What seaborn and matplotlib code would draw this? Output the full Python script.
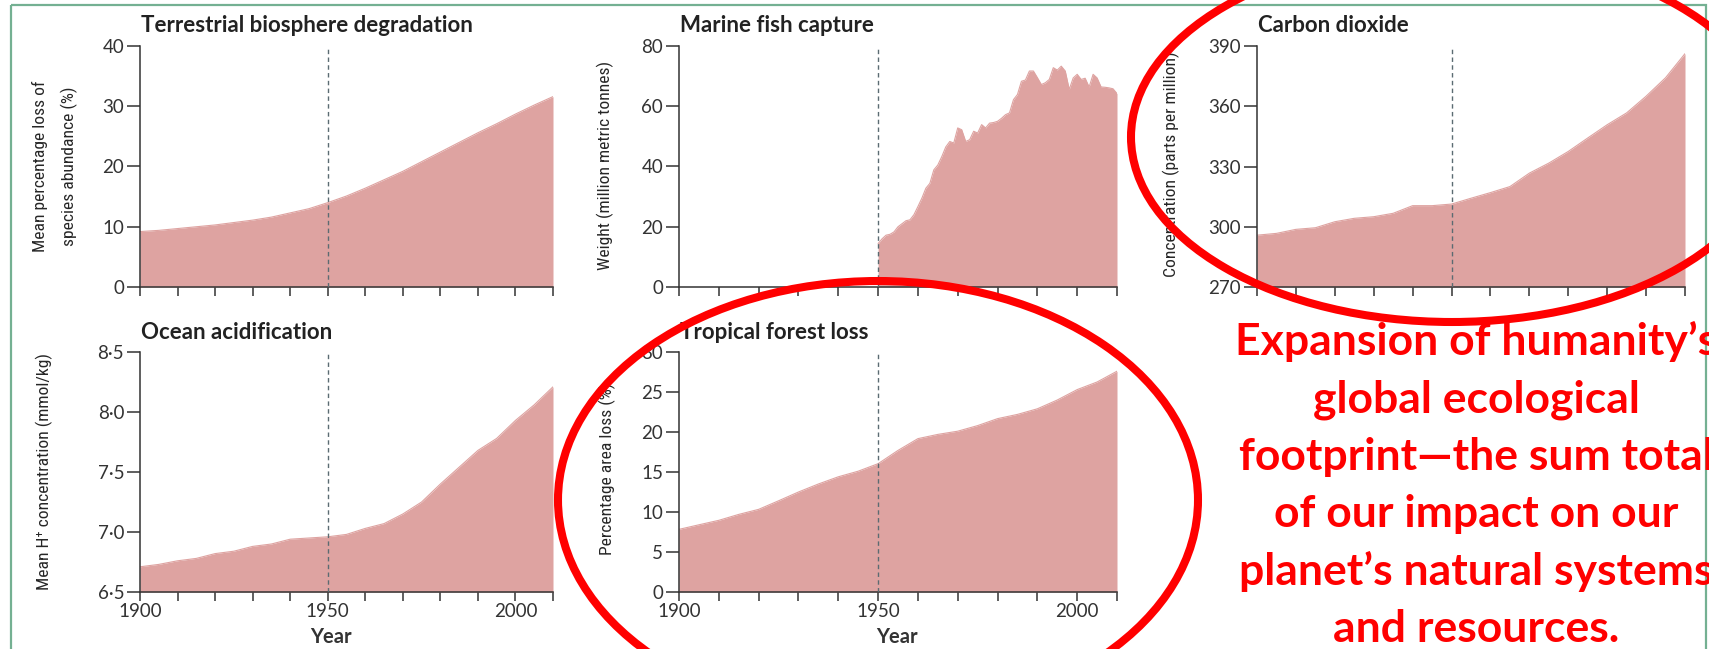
import numpy as np
import pandas as pd
import seaborn as sns
import matplotlib.pyplot as plt
from matplotlib.patches import Ellipse, Rectangle
from matplotlib import font_manager as fm

# ---------------------------------------------------------------- data
years5 = list(range(1900, 2011, 5))

biosphere_loss = [9.2, 9.4, 9.7, 10.0, 10.3, 10.7, 11.1, 11.6, 12.3, 13.0, 14.0, 15.1,
                  16.4, 17.8, 19.2, 20.8, 22.4, 24.0, 25.6, 27.1, 28.7, 30.2, 31.6]

fish_years = list(range(1950, 2011))
fish_catch = [14.4, 16.0, 17.2, 17.5, 18.3, 20.0, 21.0, 22.0, 22.3, 24.0,
              26.7, 29.5, 32.8, 34.4, 38.9, 40.5, 43.3, 46.5, 48.3, 47.8,
              52.8, 52.2, 48.3, 48.9, 51.7, 51.1, 53.9, 52.8, 54.4, 54.6,
              55.0, 56.0, 57.2, 57.8, 62.2, 63.9, 68.3, 68.7, 71.7, 71.7,
              69.5, 67.2, 67.8, 68.9, 72.8, 72.0, 73.3, 71.7, 65.6, 69.4,
              70.6, 68.9, 69.3, 66.4, 70.6, 69.4, 66.4, 66.3, 66.1, 65.8,
              64.2]

co2_ppm = [295.8, 296.7, 298.7, 299.5, 302.5, 304.2, 305.0, 306.7, 310.5, 310.5, 311.3, 314.2,
           317.0, 320.0, 326.7, 331.7, 337.5, 344.2, 350.8, 356.7, 365.0, 374.2, 386.2]

h_ion = [6.71, 6.73, 6.76, 6.78, 6.82, 6.84, 6.88, 6.90, 6.94, 6.95, 6.96, 6.98,
         7.03, 7.07, 7.15, 7.25, 7.40, 7.54, 7.68, 7.78, 7.93, 8.06, 8.21]

forest_loss = [7.83, 8.40, 8.96, 9.70, 10.33, 11.40, 12.50, 13.50, 14.40, 15.10, 16.04, 17.70,
               19.17, 19.70, 20.10, 20.80, 21.67, 22.20, 22.90, 24.00, 25.30, 26.25, 27.60]

x_ticks = list(range(1900, 2011, 10))
x_labels = ["1900" if t == 1900 else "1950" if t == 1950 else "2000" if t == 2000 else "" for t in x_ticks]

note_lines = ["Expansion of humanity\u2019s", "global ecological", "footprint\u2014the sum total",
              "of our impact on our", "planet\u2019s natural systems", "and resources."]

# ---------------------------------------------------------------- style
sns.set_theme(style="white")
plt.rcParams["font.family"] = ["Lato", "DejaVu Sans"]


def has_font(name):
    try:
        fm.findfont(fm.FontProperties(family=name), fallback_to_default=False)
        return True
    except Exception:
        return False


if has_font("Liberation Sans Narrow"):
    LABEL_FAMILY, LABEL_SIZE = ["Liberation Sans Narrow", "DejaVu Sans"], 13.1
elif has_font("Roboto Condensed"):
    LABEL_FAMILY, LABEL_SIZE = ["Roboto Condensed", "DejaVu Sans"], 12.6
else:
    LABEL_FAMILY, LABEL_SIZE = ["Roboto", "DejaVu Sans"], 11

FILL = "#dea3a1"
INK = "#333333"
DASH = "#5b6b72"
W, H = 1709, 649

fig = plt.figure(figsize=(W / 100, H / 100), dpi=100)
fig.patch.set_facecolor("white")


def box(left, top, right, bottom):
    return [left / W, 1 - bottom / H, (right - left) / W, (bottom - top) / H]


def panel(rect, years, values, ylim, yticks, ylabels, title, bottom_row, year_x=None):
    ax = fig.add_axes(box(*rect))
    df = pd.DataFrame({"year": years, "value": values})
    ax.fill_between(df["year"], ylim[0], df["value"], color=FILL, lw=0, zorder=1)
    sns.lineplot(data=df, x="year", y="value", ax=ax, color=FILL, lw=0.8, zorder=2)
    ax.axvline(1950, color=DASH, lw=1.0, ls=(0, (3.2, 2.4)), zorder=3)
    ax.set_xlim(1900, 2010)
    ax.set_ylim(*ylim)
    ax.set_xticks(x_ticks)
    ax.set_yticks(yticks)
    ax.set_yticklabels(ylabels)
    if bottom_row:
        ax.set_xticklabels(x_labels)
    else:
        ax.set_xticklabels([])
    ax.set_xlabel("")
    ax.set_ylabel("")
    sns.despine(ax=ax)
    for s in ("left", "bottom"):
        ax.spines[s].set_color(INK)
        ax.spines[s].set_linewidth(1.1)
    ax.tick_params(axis="x", direction="out", length=6.5, width=1.1, color=INK,
                   labelsize=13.5, labelcolor=INK, pad=1.5, bottom=True)
    ax.tick_params(axis="y", direction="out", length=9.4, width=1.1, color=INK,
                   labelsize=13.5, labelcolor=INK, pad=2, left=True)
    ax.patch.set_alpha(0)
    left, top = rect[0], rect[1]
    fig.text((left + 1) / W, 1 - (top - 20) / H, title, ha="left", va="center",
             fontsize=16, fontweight="bold", color="#222222")
    if bottom_row:
        fig.text(year_x / W, 1 - 637 / H, "Year", ha="center", va="center",
                 fontsize=14.5, fontweight="bold", color="#333333")
    return ax


panel((140, 46, 553, 287), years5, biosphere_loss, (0, 40), [0, 10, 20, 30, 40],
      ["0", "10", "20", "30", "40"], "Terrestrial biosphere degradation", False)
panel((679, 46, 1117, 287), fish_years, fish_catch, (0, 80), [0, 20, 40, 60, 80],
      ["0", "20", "40", "60", "80"], "Marine fish capture", False)
panel((1257, 46, 1685, 287), years5, co2_ppm, (270, 390), [270, 300, 330, 360, 390],
      ["270", "300", "330", "360", "390"], "Carbon dioxide", False)
panel((140, 352, 553, 592), years5, h_ion, (6.5, 8.5), [6.5, 7.0, 7.5, 8.0, 8.5],
      ["6\u00b75", "7\u00b70", "7\u00b75", "8\u00b70", "8\u00b75"], "Ocean acidification", True, year_x=331)
panel((679, 352, 1117, 592), years5, forest_loss, (0, 30), [0, 5, 10, 15, 20, 25, 30],
      ["0", "5", "10", "15", "20", "25", "30"], "Tropical forest loss", True, year_x=897)


def ylabel(x, y, s):
    fig.text(x / W, 1 - y / H, s, rotation=90, ha="center", va="center",
             family=LABEL_FAMILY, fontsize=LABEL_SIZE, color="#262626")


ylabel(40, 166, "Mean percentage loss of")
ylabel(69, 166, "species abundance (%)")
ylabel(605, 165, "Weight (million metric tonnes)")
ylabel(1171, 164, "Concentration (parts per million)")
ylabel(44, 472, "Mean H\u207a concentration (mmol/kg)")
ylabel(607, 469, "Percentage area loss (%)")

# ---------------------------------------------------------------- slide overlay
over = fig.add_axes([0, 0, 1, 1], zorder=10)
over.set_xlim(0, W)
over.set_ylim(H, 0)
over.axis("off")
over.patch.set_alpha(0)

over.add_patch(Rectangle((11, 5), 1695, 700, fill=False, edgecolor="#74b092", lw=1.6))
over.add_patch(Ellipse((1452, 137), 642, 370, fill=False, edgecolor="#ff0000", lw=5.8))
over.add_patch(Ellipse((878, 500), 640, 438, fill=False, edgecolor="#ff0000", lw=5.8))

for i, line in enumerate(note_lines):
    over.text(1476, 355 + i * 57.4, line, ha="center", va="baseline", color="#ff0000",
              fontsize=32, fontweight="bold", family=["Lato", "DejaVu Sans"])

fig.savefig("out.png", dpi=100)
